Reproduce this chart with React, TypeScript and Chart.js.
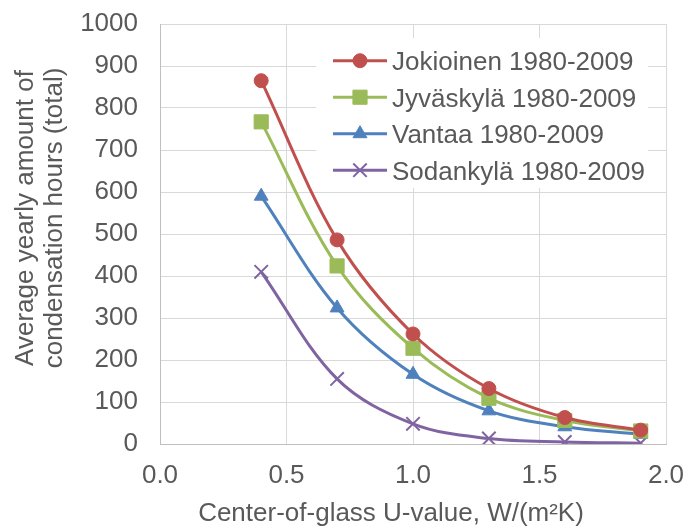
import React, { useEffect, useRef } from 'react';
import { Chart, registerables } from 'chart.js';

Chart.register(...registerables);

// ---- data ----
const uValues = [0.4, 0.7, 1.0, 1.3, 1.6, 1.9];
const jokioinen = [865, 486, 262, 132, 63, 33];
const jyvaskyla = [767, 424, 228, 109, 56, 31];
const vantaa = [590, 324, 166, 79, 41, 23];
const sodankyla = [410, 155, 48, 13, 5, 2];
const seriesNames = [
  'Jokioinen 1980-2009',
  'Jyväskylä 1980-2009',
  'Vantaa 1980-2009',
  'Sodankylä 1980-2009',
];
const xTicks = [0, 0.5, 1.0, 1.5, 2.0];
const yTicks = [0, 100, 200, 300, 400, 500, 600, 700, 800, 900, 1000];
const xTitle = 'Center-of-glass U-value, W/(m²K)';
const yTitleLines = ['Average yearly amount of', 'condensation hours (total)'];

// ---- style ----
const FONT = '"Liberation Sans", Arial, sans-serif';
const TEXT = '#595959';
const styles = [
  { color: '#C0504D', pointStyle: 'circle', radius: 7, pbw: 1 },
  { color: '#9BBB59', pointStyle: 'rect', radius: 10, pbw: 1 },
  { color: '#4F81BD', pointStyle: 'triangle', radius: 8, pbw: 1 },
  { color: '#8064A2', pointStyle: 'crossRot', radius: 9.5, pbw: 2 },
];

function drawMarker(ctx: CanvasRenderingContext2D, style: string, x: number, y: number, r: number, color: string, bw: number) {
  ctx.save();
  ctx.fillStyle = color;
  ctx.strokeStyle = color;
  ctx.lineWidth = bw;
  ctx.beginPath();
  if (style === 'circle') {
    ctx.arc(x, y, r, 0, Math.PI * 2);
    ctx.fill();
    ctx.stroke();
  } else if (style === 'rect') {
    const s = Math.SQRT1_2 * r;
    ctx.rect(x - s, y - s, 2 * s, 2 * s);
    ctx.fill();
    ctx.stroke();
  } else if (style === 'triangle') {
    let rad = 0;
    ctx.moveTo(x + Math.sin(rad) * r, y - Math.cos(rad) * r);
    rad += (2 * Math.PI) / 3;
    ctx.lineTo(x + Math.sin(rad) * r, y - Math.cos(rad) * r);
    rad += (2 * Math.PI) / 3;
    ctx.lineTo(x + Math.sin(rad) * r, y - Math.cos(rad) * r);
    ctx.closePath();
    ctx.fill();
    ctx.stroke();
  } else {
    const o = Math.SQRT1_2 * r;
    ctx.moveTo(x - o, y - o);
    ctx.lineTo(x + o, y + o);
    ctx.moveTo(x - o, y + o);
    ctx.lineTo(x + o, y - o);
    ctx.stroke();
  }
  ctx.restore();
}

const insideLegend = {
  id: 'insideLegend',
  afterDatasetsDraw(chart: any) {
    const ctx: CanvasRenderingContext2D = chart.ctx;
    const a = chart.chartArea;
    const boxL = a.left + 156;
    const boxT = a.top + 14;
    ctx.save();
    ctx.fillStyle = '#ffffff';
    ctx.fillRect(boxL, boxT, 332, 150);
    const rowH = 36.5;
    chart.data.datasets.forEach((ds: any, i: number) => {
      const st = styles[i];
      const y = boxT + 22.7 + i * rowH;
      ctx.strokeStyle = st.color;
      ctx.lineWidth = 3;
      ctx.beginPath();
      ctx.moveTo(boxL + 17, y);
      ctx.lineTo(boxL + 71, y);
      ctx.stroke();
      drawMarker(ctx, st.pointStyle, boxL + 44, y, st.radius, st.color, st.pbw);
      ctx.fillStyle = TEXT;
      ctx.font = `26px ${FONT}`;
      ctx.textAlign = 'left';
      ctx.textBaseline = 'alphabetic';
      ctx.fillText(ds.label, boxL + 76, y + 9.3);
    });
    ctx.restore();
  },
};

const axisTitles = {
  id: 'axisTitles',
  afterDraw(chart: any) {
    const ctx: CanvasRenderingContext2D = chart.ctx;
    ctx.save();
    ctx.fillStyle = TEXT;
    ctx.font = `26px ${FONT}`;
    ctx.textAlign = 'center';
    ctx.textBaseline = 'alphabetic';
    ctx.fillText(xTitle, 391, 521);
    yTitleLines.forEach((line, i) => {
      ctx.save();
      ctx.translate(33 + i * 29, 218);
      ctx.rotate(-Math.PI / 2);
      ctx.fillText(line, 0, 0);
      ctx.restore();
    });
    ctx.restore();
  },
};

export default function App() {
  const ref = useRef<HTMLCanvasElement | null>(null);
  useEffect(() => {
    if (!ref.current) return;
    const series = [jokioinen, jyvaskyla, vantaa, sodankyla];
    const chart = new Chart(ref.current, {
      type: 'line',
      data: {
        datasets: series.map((vals, i) => ({
          label: seriesNames[i],
          data: vals.map((v, j) => ({ x: uValues[j], y: v })),
          borderColor: styles[i].color,
          backgroundColor: styles[i].color,
          borderWidth: 3,
          pointStyle: styles[i].pointStyle as any,
          pointRadius: styles[i].radius,
          pointBorderWidth: styles[i].pbw,
          pointBackgroundColor: styles[i].color,
          pointBorderColor: styles[i].color,
          tension: 0.35,
          fill: false,
        })),
      },
      options: {
        animation: false,
        responsive: true,
        maintainAspectRatio: false,
        layout: { padding: { top: 24, right: 21, left: 0, bottom: 0 } },
        plugins: {
          legend: { display: false },
          tooltip: { enabled: false },
        },
        scales: {
          x: {
            type: 'linear',
            min: 0,
            max: 2,
            afterBuildTicks: (s: any) => {
              s.ticks = xTicks.map((v) => ({ value: v }));
            },
            afterFit: (s: any) => {
              s.height = 82;
              s.paddingLeft = 0;
              s.paddingRight = 0;
            },
            ticks: {
              color: TEXT,
              font: { size: 26, family: FONT },
              padding: 16,
              maxRotation: 0,
              callback: (v: any) => Number(v).toFixed(1),
            },
            grid: { color: '#d9d9d9', lineWidth: 1, drawTicks: false },
            border: { color: '#bfbfbf', width: 1 },
          },
          y: {
            min: 0,
            max: 1000,
            afterBuildTicks: (s: any) => {
              s.ticks = yTicks.map((v) => ({ value: v }));
            },
            afterFit: (s: any) => {
              s.width = 160;
              s.paddingTop = 0;
              s.paddingBottom = 0;
            },
            ticks: {
              color: TEXT,
              font: { size: 26, family: FONT },
              padding: 22,
              callback: (v: any) => String(v),
            },
            grid: { color: '#d9d9d9', lineWidth: 1, drawTicks: false },
            border: { color: '#bfbfbf', width: 1 },
          },
        },
      },
      plugins: [insideLegend, axisTitles],
    });
    return () => chart.destroy();
  }, []);
  return (
    <div style={{ position: 'fixed', left: 0, top: 0, width: 687, height: 526, background: '#fff' }}>
      <canvas ref={ref} />
    </div>
  );
}
